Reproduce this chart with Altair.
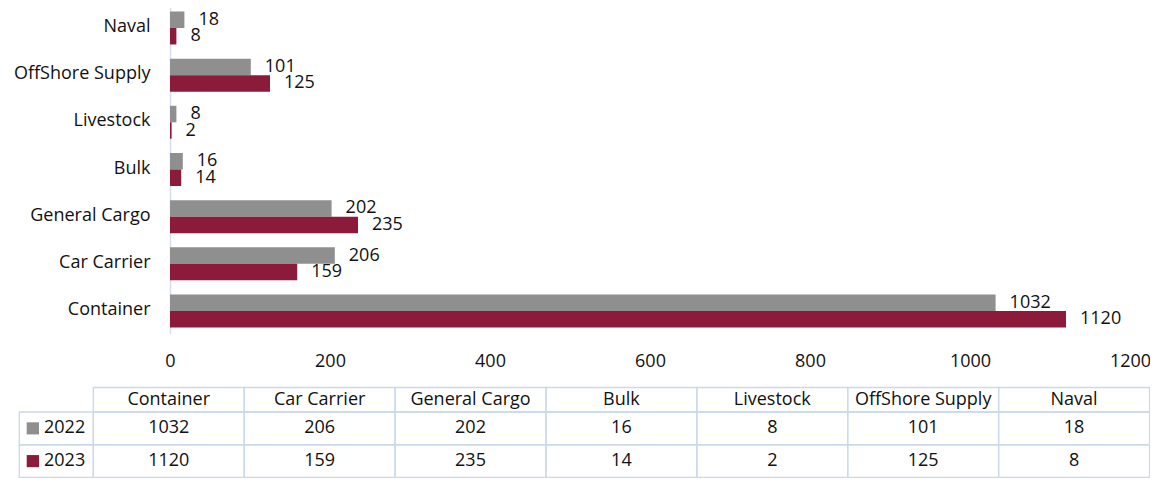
import altair as alt
import pandas as pd

# ---- data ----
categories = ["Container", "Car Carrier", "General Cargo", "Bulk", "Livestock", "OffShore Supply", "Naval"]
values_2022 = [1032, 206, 202, 16, 8, 101, 18]
values_2023 = [1120, 159, 235, 14, 2, 125, 8]
years = ["2022", "2023"]
x_ticks = [0, 200, 400, 600, 800, 1000, 1200]

# ---- styles ----
colors = ["#8f8f8f", "#8c1a3a"]
FONT = "Open Sans"
FS = 18
TXT = "#111111"
GRID = "#c9d9ee"
AXIS_LINE = "#d3dff0"

rows = []
for c, a, b in zip(categories, values_2022, values_2023):
    rows.append({"category": c, "year": "2022", "value": a})
    rows.append({"category": c, "year": "2023", "value": b})
long_df = pd.DataFrame(rows)
head_df = pd.DataFrame({"category": categories, "row": ["head"] * len(categories)})
rowlab_df = pd.DataFrame({"year": years, "col": ["label"] * len(years)})

bar_order = categories[::-1]

x_bar_scale = alt.Scale(domain=[0, 1200], nice=False)
y_bar_scale = alt.Scale(domain=bar_order, range=[-4.6, 325.6], paddingInner=0.406, paddingOuter=0.203)
yoff_scale = alt.Scale(domain=years, paddingInner=0, paddingOuter=0)
yoff_label_scale = alt.Scale(domain=years, range=[-1.5, 31.5], paddingInner=0, paddingOuter=0)
color_scale = alt.Scale(domain=years, range=colors)

bars = alt.Chart(long_df).mark_bar().encode(
    x=alt.X("value:Q", scale=x_bar_scale,
            axis=alt.Axis(values=x_ticks, grid=False, domain=False, ticks=False, tickSize=0,
                          labelPadding=18, title=None, labelFont=FONT, labelFontSize=FS,
                          labelColor=TXT, format="d", labelFlush=False)),
    y=alt.Y("category:N", scale=y_bar_scale,
            axis=alt.Axis(title=None, ticks=False, tickSize=0, labelPadding=20, labelFont=FONT,
                          labelFontSize=FS, labelColor=TXT, domainColor=AXIS_LINE,
                          domainWidth=1.5, grid=False, labelLimit=0)),
    yOffset=alt.YOffset("year:N", scale=yoff_scale),
    color=alt.Color("year:N", scale=color_scale, legend=None),
)

bar_labels = alt.Chart(long_df).mark_text(
    align="left", baseline="middle", dx=14, font=FONT, fontSize=FS, color=TXT
).encode(
    x=alt.X("value:Q", scale=x_bar_scale, axis=None),
    y=alt.Y("category:N", scale=y_bar_scale, axis=None),
    yOffset=alt.YOffset("year:N", scale=yoff_label_scale),
    text=alt.Text("value:Q"),
)

# ---- data table ----
x_tab = alt.X("category:N", scale=alt.Scale(domain=categories, range=[-76.7, 979.5],
                                             paddingInner=0, paddingOuter=0), axis=None)
y_head = alt.Y("row:N", scale=alt.Scale(domain=["head"], range=[379.5, 404],
                                        paddingInner=0, paddingOuter=0), axis=None)
y_body = alt.Y("year:N", scale=alt.Scale(domain=years, range=[404, 469.5],
                                         paddingInner=0, paddingOuter=0), axis=None)

head_cells = alt.Chart(head_df).mark_rect(fill="transparent", stroke=GRID, strokeWidth=1.3).encode(
    x=x_tab, y=y_head)
head_text = alt.Chart(head_df).mark_text(font=FONT, fontSize=FS, color=TXT, baseline="middle").encode(
    x=x_tab, y=y_head, text="category:N")

body_cells = alt.Chart(long_df).mark_rect(fill="transparent", stroke=GRID, strokeWidth=1.3).encode(
    x=x_tab, y=y_body)
body_text = alt.Chart(long_df).mark_text(font=FONT, fontSize=FS, color=TXT, baseline="middle").encode(
    x=x_tab, y=y_body, text="value:Q")

lab_cells = alt.Chart(rowlab_df).mark_rect(fill="transparent", stroke=GRID, strokeWidth=1.3).encode(
    x=alt.X("col:N", scale=alt.Scale(domain=["label"], range=[-150.7, -76.7],
                                     paddingInner=0, paddingOuter=0), axis=None),
    y=y_body)
lab_squares = alt.Chart(rowlab_df).mark_rect().encode(
    x=alt.X("col:N", scale=alt.Scale(domain=["label"], range=[-143.3, -131],
                                     paddingInner=0, paddingOuter=0), axis=None),
    y=alt.Y("year:N", scale=alt.Scale(domain=years, range=[404, 469.5],
                                      paddingInner=0.63, paddingOuter=0.315), axis=None),
    color=alt.Color("year:N", scale=color_scale, legend=None),
)
lab_text = alt.Chart(rowlab_df).mark_text(font=FONT, fontSize=FS, color=TXT, align="left",
                                          baseline="middle").encode(
    x=alt.X("col:N", scale=alt.Scale(domain=["label"], range=[-126, -126],
                                     paddingInner=0, paddingOuter=0), axis=None),
    y=y_body,
    text="year:N",
)

chart = alt.layer(
    bars, bar_labels, head_cells, head_text, body_cells, body_text, lab_cells, lab_squares, lab_text
).resolve_scale(
    x="independent", y="independent", color="independent"
).properties(
    width=960, height=326,
    autosize=alt.AutoSizeParams(type="none"),
    padding={"left": 162, "top": 0, "right": 20, "bottom": 144},
    background="white",
).configure_view(stroke=None)

chart.save("out.html", embed_options={"renderer": "svg", "actions": False})
